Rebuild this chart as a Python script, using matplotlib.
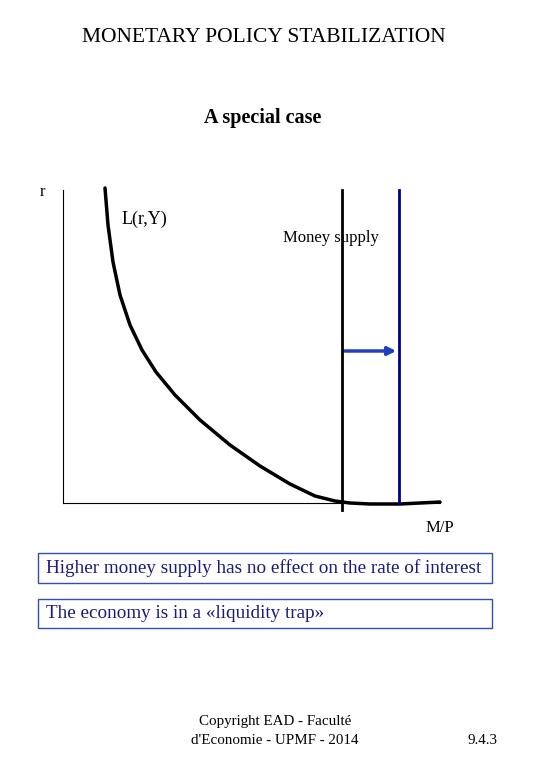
import matplotlib
matplotlib.use("Agg")
import matplotlib.pyplot as plt
from matplotlib.patches import Rectangle, FancyArrowPatch
from matplotlib.path import Path
from matplotlib.patches import PathPatch

plt.rcParams['font.family'] = ['Liberation Serif', 'DejaVu Serif']

# curve L(r,Y) in page pixel coordinates, smooth control points
curve_x = [105, 108, 113, 120, 130, 142, 156, 175, 200, 230, 260, 290, 315, 335, 350, 370, 400, 420, 440]
curve_y = [188, 225, 262, 295, 325, 350, 372, 395, 420, 445, 466, 484, 496, 501, 503, 504, 504, 503, 502]
ms_old_x = 342
ms_new_x = 399
arrow_y = 351

fig = plt.figure(figsize=(5.4, 7.8), dpi=100)
ax = fig.add_axes([0, 0, 1, 1])
ax.set_xlim(0, 540)
ax.set_ylim(780, 0)
ax.axis('off')

ax.text(264, 38, "MONETARY POLICY STABILIZATION", ha='center', va='center', fontsize=15.5)
ax.text(263, 118, "A special case", ha='center', va='center', fontsize=14.5, fontweight='bold')

# axes
ax.plot([63, 63], [190, 503], color='black', lw=0.8)
ax.plot([63, 440], [503, 503], color='black', lw=0.8)
ax.text(40, 192, "r", fontsize=12, va='center')
ax.text(440, 528, "M/P", fontsize=12, ha='center', va='center')

ax.plot(curve_x, curve_y, color='black', lw=2.5, solid_capstyle='round', solid_joinstyle='round')
ax.text(122, 219, "L(r,Y)", fontsize=13, va='center')

ax.plot([ms_old_x, ms_old_x], [190, 510], color='black', lw=2)
ax.plot([ms_new_x, ms_new_x], [190, 503], color='#00008B', lw=2)
ax.text(283, 238, "Money supply", fontsize=12, va='center')
ax.add_patch(FancyArrowPatch((ms_old_x, arrow_y), (ms_new_x, arrow_y), arrowstyle='-|>',
                             mutation_scale=12, color='#1f3fbf', lw=2.5))

navy = '#1a1a7a'
for y0, y1, txt in [(553, 583, "Higher money supply has no effect on the rate of interest"),
                    (599, 628, "The economy is in a \u00abliquidity trap\u00bb")]:
    ax.add_patch(Rectangle((38, y0), 454, y1 - y0, fill=False, edgecolor='#3050b0', lw=1))
    ax.text(46, (y0 + y1) / 2, txt, fontsize=13.8, color=navy, va='center')

ax.text(275, 722, "Copyright EAD - Faculté", fontsize=10.8, ha='center', va='center')
ax.text(275, 741, "d'Economie - UPMF - 2014", fontsize=10.8, ha='center', va='center')
ax.text(483, 740, "9.4.3", fontsize=10.8, ha='center', va='center')

fig.savefig("out.png", dpi=100)
